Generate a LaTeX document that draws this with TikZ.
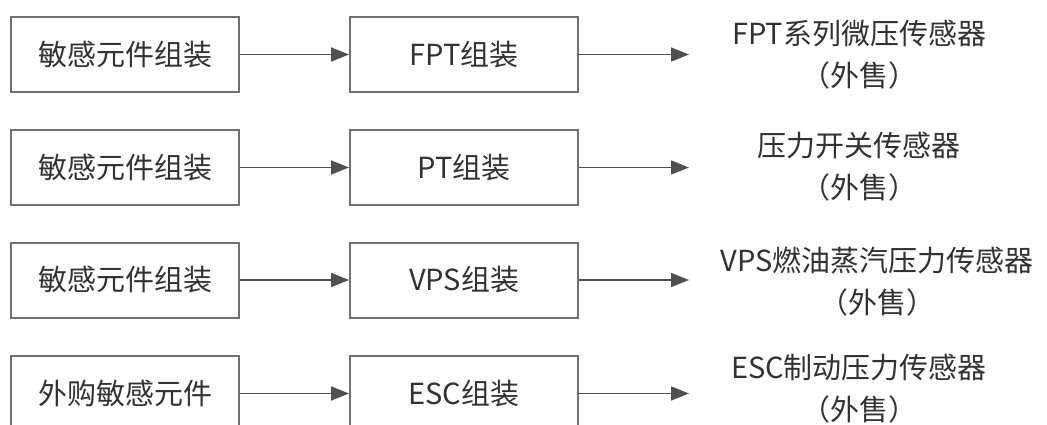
\documentclass[tikz,border=0pt]{standalone}
\usepackage{fontspec}
\setmainfont{Noto Sans CJK SC}
\usetikzlibrary{arrows.meta}
\definecolor{boxgray}{RGB}{112,112,112}
\definecolor{txtgray}{RGB}{50,50,50}
\definecolor{arrgray}{RGB}{80,80,80}

\begin{document}
\begin{tikzpicture}[x=1pt,y=-1pt,
  stage/.style={draw=boxgray,line width=2pt,minimum width=228pt,minimum height=75pt,
    inner sep=0pt,text=txtgray,font=\fontsize{29}{34}\selectfont},
  product/.style={align=center,inner sep=0pt,text=txtgray,font=\fontsize{29}{42}\selectfont},
  flow/.style={draw=arrgray,line width=1.8pt,-{Triangle[length=18pt,width=14pt]}}]
\useasboundingbox [fill=white] (0,0) rectangle (1047,425);
% row 1
\node [stage] (parta) at (125,54.5) {敏感元件组装};
\node [stage] (asma) at (464,54.5) {FPT组装};
\coordinate (enda) at (689,54.5);
\node [product] (sella) at (859,55) {FPT系列微压传感器\\（外售）};
% row 2
\node [stage] (partb) at (125,167.5) {敏感元件组装};
\node [stage] (asmb) at (464,167.5) {PT组装};
\coordinate (endb) at (689,167.5);
\node [product] (sellb) at (859,167) {压力开关传感器\\（外售）};
% row 3
\node [stage] (partc) at (125,280) {敏感元件组装};
\node [stage] (asmc) at (464,280) {VPS组装};
\coordinate (endc) at (689,280);
\node [product] (sellc) at (877,282) {VPS燃油蒸汽压力传感器\\（外售）};
% row 4
\node [stage] (partd) at (125,393.5) {外购敏感元件};
\node [stage] (asmd) at (464,393.5) {ESC组装};
\coordinate (endd) at (689,393.5);
\node [product] (selld) at (859,389) {ESC制动压力传感器\\（外售）};
% arrows
\foreach \r in {a,b,c,d} {
  \draw [flow] (part\r) -- (asm\r);
  \draw [flow] (asm\r) -- (end\r);
}
\end{tikzpicture}
\end{document}
